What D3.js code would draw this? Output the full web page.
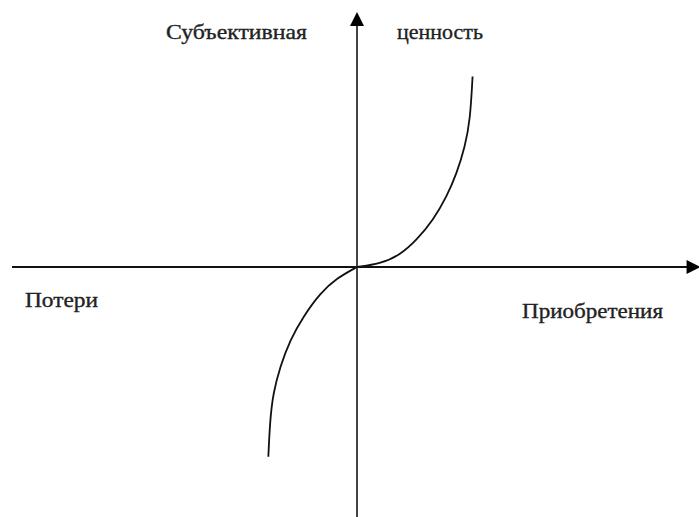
<!DOCTYPE html>
<html>
<head>
<meta charset="utf-8">
<script src="https://cdn.jsdelivr.net/npm/d3@7"></script>
<style>
  body { margin: 0; background: #fff; }
  svg { display: block; }
</style>
</head>
<body>
<div id="chart"></div>
<script>
// value function (gains / losses)
const gainX = [0, 0.67, 1.25, 1.73, 2.21, 2.60, 2.89, 3.13, 3.28, 3.35];
const gainY = [0, 0.12, 0.47, 1.06, 1.84, 2.76, 3.67, 4.72, 5.76, 7.47];
const lossX = [0, -0.59, -1.07, -1.56, -1.94, -2.23, -2.43, -2.52, -2.57];
const lossY = [0, -0.44, -1.03, -1.95, -2.86, -3.91, -4.95, -6.0, -7.44];

const axisXExtent = [-10, 9.9];
const axisYExtent = [-10, 10];

const labels = ["Субъективная", "ценность", "Потери", "Приобретения"];
const labelWidths = [141, 86, 73, 141];

const width = 699, height = 517;

const svg = d3.select("#chart")
  .append("svg")
  .attr("width", width)
  .attr("height", height);

const x = d3.scaleLinear().domain([-10, 10]).range([12, 702]);
const y = d3.scaleLinear().domain([-10, 10]).range([522, 12]);

// horizontal axis
svg.append("line")
  .attr("x1", x(axisXExtent[0])).attr("x2", x(axisXExtent[1]) - 8)
  .attr("y1", y(0)).attr("y2", y(0))
  .attr("stroke", "#111").attr("stroke-width", 2);

svg.append("path")
  .attr("d", d3.line()([
    [x(axisXExtent[1]) - 12, y(0) - 7],
    [x(axisXExtent[1]) + 2, y(0)],
    [x(axisXExtent[1]) - 12, y(0) + 7]
  ]) + "Z")
  .attr("fill", "#000");

// vertical axis
svg.append("line")
  .attr("x1", x(0)).attr("x2", x(0))
  .attr("y1", y(axisYExtent[0]) + 5).attr("y2", y(axisYExtent[1]) + 10)
  .attr("stroke", "#444").attr("stroke-width", 2);

svg.append("path")
  .attr("d", d3.line()([
    [x(0) - 7, y(axisYExtent[1]) + 14],
    [x(0), y(axisYExtent[1])],
    [x(0) + 7, y(axisYExtent[1]) + 14]
  ]) + "Z")
  .attr("fill", "#000");

// curve
const line = d3.line()
  .x(d => x(d[0]))
  .y(d => y(d[1]))
  .curve(d3.curveBasis);

svg.append("path")
  .datum(d3.zip(gainX, gainY))
  .attr("d", line)
  .attr("fill", "none")
  .attr("stroke", "#111")
  .attr("stroke-width", 1.8);

svg.append("path")
  .datum(d3.zip(lossX, lossY))
  .attr("d", line)
  .attr("fill", "none")
  .attr("stroke", "#111")
  .attr("stroke-width", 1.8);

// labels
const txt = (i, px, py) => svg.append("text")
  .text(labels[i])
  .attr("x", px).attr("y", py)
  .attr("textLength", labelWidths[i])
  .attr("lengthAdjust", "spacingAndGlyphs")
  .attr("font-family", "Liberation Serif, Times New Roman, serif")
  .attr("font-size", 21)
  .attr("fill", "#222")
  .attr("stroke", "#222")
  .attr("stroke-width", 0.35);

txt(0, 166, 39);
txt(1, 397, 39);
txt(2, 25, 307);
txt(3, 522, 318);
</script>
</body>
</html>
